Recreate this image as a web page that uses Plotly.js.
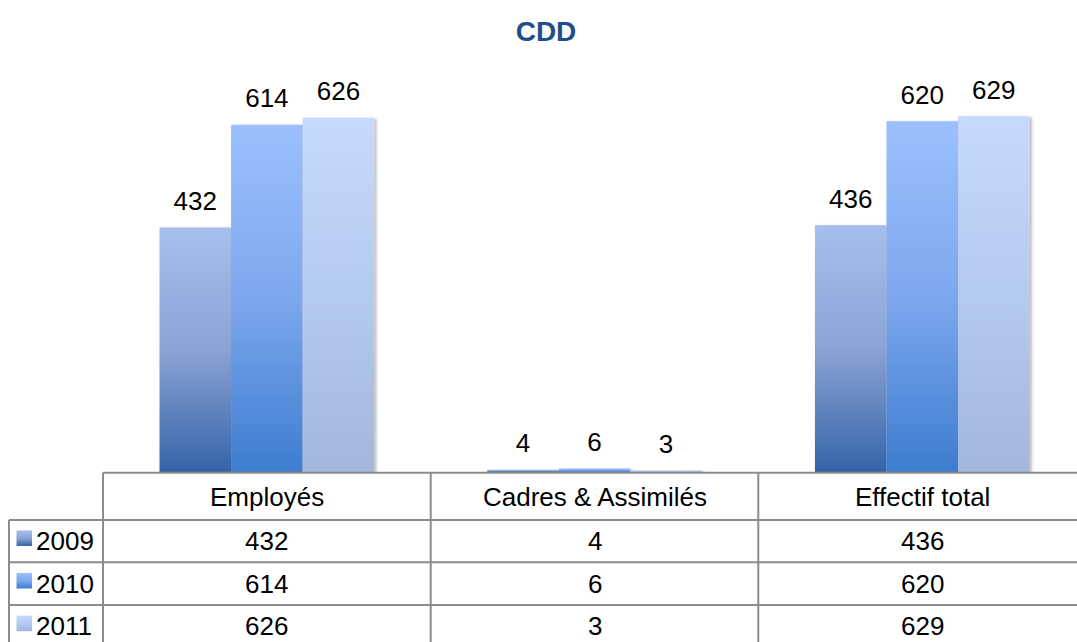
<!DOCTYPE html>
<html><head><meta charset="utf-8">
<script src="https://cdn.plot.ly/plotly-3.0.1.min.js"></script>
<style>html,body{margin:0;padding:0;background:#fff;}</style>
</head><body>
<div id="chart" style="width:1077px;height:642px;"></div>
<script>
// ---- data ----
const categories = ['Employés', 'Cadres & Assimilés', 'Effectif total'];
const years = ['2009', '2010', '2011'];
const values2009 = [432, 4, 436];
const values2010 = [614, 6, 620];
const values2011 = [626, 3, 629];
const seriesValues = [values2009, values2010, values2011];

// ---- styles ----
const gradients = [
  ['#3464A8', '#8BA3D5', '#A6BFEE'],
  ['#3D7DCF', '#7DA7EE', '#9CC0FD'],
  ['#A3B6DE', '#B5CAF0', '#C6D9FF']
];
const FONT = 'Liberation Sans, Arial, Helvetica, sans-serif';
const FS = 26;
const W = 1077, H = 642;
const plotLeft = 103, plotBottom = 472, plotTop = 76;
const plotH = plotBottom - plotTop;
function px2x(px) { return (px - plotLeft) / (W - plotLeft); }
function py2y(py) { return (plotBottom - py) / plotH; }

const lineColor = '#8C8C8C';
const headerCenter = 497;
const rowLines = [520, 562.3, 605];
const rowCenters = [541.2, 583.7, 626.4];
const colLines = [103, 430.7, 758.3];

const traces = years.map((yr, i) => ({
  type: 'bar',
  name: yr,
  x: categories,
  y: seriesValues[i],
  marker: { color: gradients[i][1], line: { width: 0 } },
  text: seriesValues[i].map(String),
  textposition: 'outside',
  textfont: { family: FONT, size: FS, color: '#000' },
  cliponaxis: false,
  hoverinfo: 'skip',
  showlegend: false
}));

const shapes = [];
shapes.push({ type: 'line', xref: 'paper', yref: 'paper', x0: px2x(103), x1: 1, y0: py2y(472.7), y1: py2y(472.7), line: { color: lineColor, width: 2 } });
rowLines.forEach(py => shapes.push({ type: 'line', xref: 'paper', yref: 'paper', x0: px2x(9), x1: 1, y0: py2y(py), y1: py2y(py), line: { color: lineColor, width: 2 } }));
shapes.push({ type: 'line', xref: 'paper', yref: 'paper', x0: px2x(9), x1: px2x(9), y0: py2y(520), y1: py2y(660), line: { color: lineColor, width: 2 } });
colLines.forEach(px => shapes.push({ type: 'line', xref: 'paper', yref: 'paper', x0: px2x(px), x1: px2x(px), y0: py2y(472.7), y1: py2y(660), line: { color: lineColor, width: 2 } }));
const keyStart = shapes.length;
years.forEach((yr, i) => {
  const c = rowCenters[i] - 3;
  shapes.push({ type: 'rect', xref: 'paper', yref: 'paper', x0: px2x(16.5), x1: px2x(32), y0: py2y(c + 7.8), y1: py2y(c - 7.8), fillcolor: gradients[i][1], line: { width: 0 } });
});

const annotations = [];
categories.forEach(cat => annotations.push({ xref: 'x', yref: 'paper', x: cat, y: py2y(headerCenter), text: cat, showarrow: false, xanchor: 'center', yanchor: 'middle', font: { family: FONT, size: FS, color: '#000' } }));
years.forEach((yr, i) => {
  annotations.push({ xref: 'paper', yref: 'paper', x: px2x(34), y: py2y(rowCenters[i]), text: yr, showarrow: false, xanchor: 'left', yanchor: 'middle', font: { family: FONT, size: FS, color: '#000' } });
  categories.forEach((cat, j) => annotations.push({ xref: 'x', yref: 'paper', x: cat, y: py2y(rowCenters[i]), text: String(seriesValues[i][j]), showarrow: false, xanchor: 'center', yanchor: 'middle', font: { family: FONT, size: FS, color: '#000' } }));
});

const layout = {
  width: W, height: H,
  margin: { l: plotLeft, r: 0, t: plotTop, b: H - plotBottom, pad: 0 },
  paper_bgcolor: '#fff', plot_bgcolor: '#fff',
  font: { family: FONT, size: FS, color: '#000' },
  title: { text: '<b>CDD</b>', font: { family: FONT, size: 28, color: '#1F4E89' }, xref: 'container', yref: 'container', x: 546 / W, xanchor: 'center', y: 1 - 31 / H, yanchor: 'middle' },
  barmode: 'group', bargap: 0.345, bargroupgap: 0,
  xaxis: { type: 'category', range: [-0.5, 2.4722], showticklabels: false, showgrid: false, zeroline: false, showline: false, ticks: '', fixedrange: true },
  yaxis: { range: [0, 700], visible: false, showgrid: false, zeroline: false, fixedrange: true },
  showlegend: false,
  shapes: shapes,
  annotations: annotations
};

const gd = document.getElementById('chart');
Plotly.newPlot(gd, traces, layout, { staticPlot: true, displayModeBar: false }).then(() => {
  const NS = 'http://www.w3.org/2000/svg';
  const svg = gd.querySelector('svg.main-svg');
  const defs = document.createElementNS(NS, 'defs');
  gradients.forEach((g, i) => {
    const lg = document.createElementNS(NS, 'linearGradient');
    lg.setAttribute('id', 'barGrad' + i);
    lg.setAttribute('x1', '0'); lg.setAttribute('y1', '1');
    lg.setAttribute('x2', '0'); lg.setAttribute('y2', '0');
    [[0, g[0]], [0.5, g[1]], [1, g[2]]].forEach(([o, c]) => {
      const s = document.createElementNS(NS, 'stop');
      s.setAttribute('offset', o);
      s.setAttribute('stop-color', c);
      lg.appendChild(s);
    });
    defs.appendChild(lg);
  });
  const f = document.createElementNS(NS, 'filter');
  f.setAttribute('id', 'barShadow');
  f.setAttribute('x', '-10%'); f.setAttribute('y', '-10%');
  f.setAttribute('width', '130%'); f.setAttribute('height', '130%');
  const ds = document.createElementNS(NS, 'feDropShadow');
  ds.setAttribute('dx', '2'); ds.setAttribute('dy', '1');
  ds.setAttribute('stdDeviation', '1.5');
  ds.setAttribute('flood-color', '#000');
  ds.setAttribute('flood-opacity', '0.3');
  f.appendChild(ds);
  defs.appendChild(f);
  svg.insertBefore(defs, svg.firstChild);

  const traceGroups = gd.querySelectorAll('.barlayer .trace');
  traceGroups.forEach((tg, i) => {
    tg.querySelectorAll('.point path').forEach(p => {
      p.style.fill = 'url(#barGrad' + i + ')';
      p.setAttribute('filter', 'url(#barShadow)');
    });
    tg.querySelectorAll('text.bartext').forEach(t => {
      const tr = t.getAttribute('transform') || '';
      t.setAttribute('transform', tr + ' translate(0,-8.5)');
    });
  });
  gd.querySelectorAll('.shapelayer path').forEach(p => {
    const idx = +p.getAttribute('data-index');
    if (idx >= keyStart && idx < keyStart + years.length) {
      p.style.fill = 'url(#barGrad' + (idx - keyStart) + ')';
    }
  });
});
</script>
</body></html>
